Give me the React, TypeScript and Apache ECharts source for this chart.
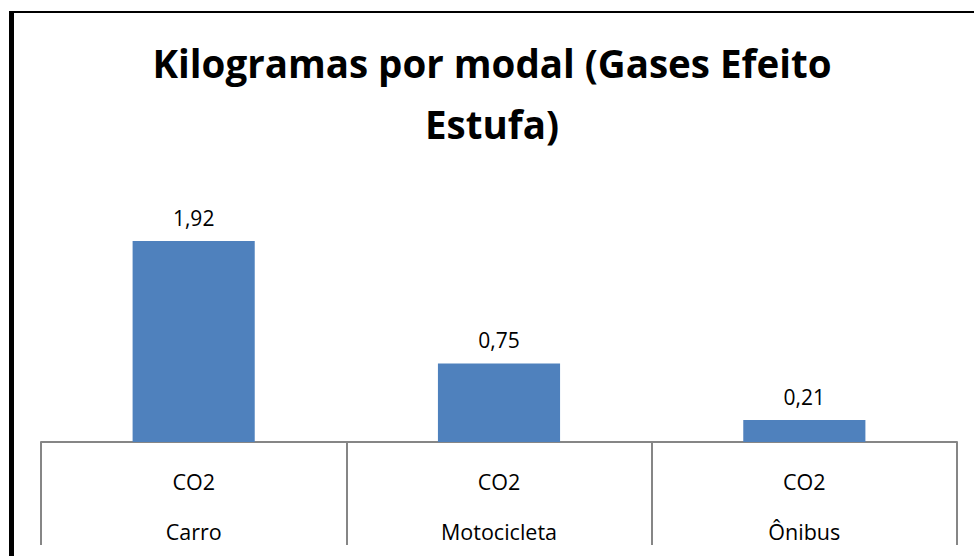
import React, { useEffect, useRef } from "react";
import * as echarts from "echarts";

const categories = ["Carro", "Motocicleta", "Ônibus"];
const groupLabel = "CO2";
const values = [1.92, 0.75, 0.21];
const titleText = "Kilogramas por modal (Gases Efeito\nEstufa)";

export default function App() {
  const ref = useRef<HTMLDivElement>(null);
  useEffect(() => {
    document.body.style.margin = "0";
    const chart = echarts.init(ref.current!, null, { renderer: "svg" });
    chart.setOption({
      animation: false,
      backgroundColor: "#ffffff",
      title: {
        text: titleText,
        left: 487,
        textAlign: "center",
        top: 27,
        textStyle: {
          fontFamily: "Open Sans",
          fontWeight: "bold",
          fontSize: 38.5,
          lineHeight: 61,
          color: "#000000",
        },
      },
      graphic: [
        { type: "rect", shape: { x: 9, y: 11, width: 5, height: 545 }, style: { fill: "#000" } },
        { type: "rect", shape: { x: 9, y: 11, width: 965, height: 2 }, style: { fill: "#000" } },
      ],
      grid: { left: 41, right: 17, top: 180.4, bottom: 110, containLabel: false },
      xAxis: {
        type: "category",
        data: categories,
        axisLine: { show: true, lineStyle: { color: "#868686", width: 2 } },
        axisTick: { show: true, length: 103, lineStyle: { color: "#868686", width: 2 } },
        axisLabel: {
          formatter: (v: string) => groupLabel + "\n" + v,
          fontFamily: "Open Sans",
          fontSize: 21.5,
          lineHeight: 50,
          margin: 14,
          color: "#000000",
        },
      },
      yAxis: { type: "value", min: 0, max: 2.5, interval: 0.5, show: false, splitLine: { show: false } },
      series: [
        {
          type: "bar",
          data: values,
          barWidth: "40%",
          itemStyle: { color: "#4F81BD" },
          label: {
            show: true,
            position: "top",
            distance: 13,
            fontFamily: "Open Sans",
            fontSize: 21,
            color: "#000000",
            formatter: (p: any) => p.value.toFixed(2).replace(".", ","),
          },
        },
      ],
    });
    return () => chart.dispose();
  }, []);
  return <div ref={ref} style={{ position: "absolute", left: 0, top: 0, width: 974, height: 556 }} />;
}
